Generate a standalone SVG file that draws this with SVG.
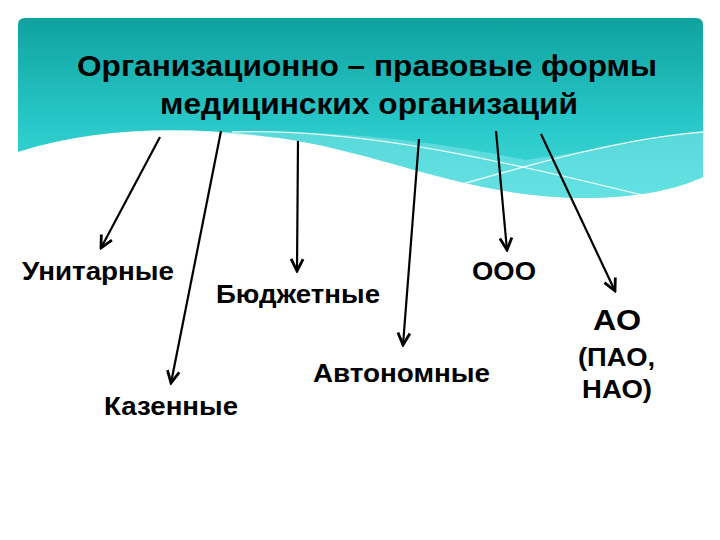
<svg xmlns="http://www.w3.org/2000/svg" width="720" height="540" viewBox="0 0 720 540">
  <defs>
    <linearGradient id="teal" x1="0" y1="18" x2="0" y2="200" gradientUnits="userSpaceOnUse">
      <stop offset="0" stop-color="#0fa29f"/>
      <stop offset="0.55" stop-color="#27c6c6"/>
      <stop offset="1" stop-color="#44dcdc"/>
    </linearGradient>
    <marker id="arr" viewBox="-14 -8 16 16" refX="0" refY="0" markerWidth="16" markerHeight="16" markerUnits="userSpaceOnUse" orient="auto">
      <path d="M-12,-6 L0,0 L-12,6" fill="none" stroke="#000" stroke-width="2.8" stroke-linejoin="miter"/>
    </marker>
    <style>
      .lbl { font-family: "Liberation Sans", Arial, sans-serif; font-weight: bold; fill: #000; }
      .title { font-size: 30px; }
      .node { font-size: 25px; }
      .conn line { stroke: #000; stroke-width: 2.2; marker-end: url(#arr); }
      .wl { fill: none; stroke: #ffffff; stroke-width: 1.3; opacity: 0.85; }
    </style>
  </defs>
  <rect width="720" height="540" fill="#ffffff"/>
  <g id="banner">
    <path d="M18,25 Q18,18 25,18 H696 Q703,18 703,25 V177 C 680,188 640,198 585,198 C 470,198 380,152 280,138 C 190,126 100,126 18,152 Z" fill="url(#teal)"/>
    <path d="M215,133 C 320,128 430,140 525,160 C 600,150 660,137 703,132 V177 C 680,188 640,198 585,198 C 470,198 380,152 280,138 C 255,135 235,134 215,133 Z" fill="#7fe6ea" opacity="0.55"/>
    <path class="wl" d="M232,132 C 360,128 500,160 650,197"/>
    <path class="wl" d="M420,196 C 520,168 610,140 703,132"/>
    <text class="lbl title" x="77" y="76" textLength="580" lengthAdjust="spacingAndGlyphs">Организационно – правовые формы</text>
    <text class="lbl title" x="160" y="114" textLength="418" lengthAdjust="spacingAndGlyphs">медицинских организаций</text>
  </g>
  <g id="connectors" class="conn">
    <line x1="160" y1="137" x2="101" y2="248"/>
    <line x1="221" y1="131" x2="171" y2="383"/>
    <line x1="298" y1="141" x2="297" y2="271"/>
    <line x1="419" y1="139" x2="403" y2="345"/>
    <line x1="496" y1="131" x2="507" y2="250"/>
    <line x1="541" y1="134" x2="615" y2="291"/>
  </g>
  <g id="unitarnye"><text class="lbl node" x="22" y="280" textLength="152" lengthAdjust="spacingAndGlyphs">Унитарные</text></g>
  <g id="kazennye"><text class="lbl node" x="104" y="415" textLength="134" lengthAdjust="spacingAndGlyphs">Казенные</text></g>
  <g id="byudzhetnye"><text class="lbl node" x="216" y="303" textLength="164" lengthAdjust="spacingAndGlyphs">Бюджетные</text></g>
  <g id="avtonomnye"><text class="lbl node" x="313" y="382" textLength="177" lengthAdjust="spacingAndGlyphs">Автономные</text></g>
  <g id="ooo"><text class="lbl node" x="472" y="280" textLength="64" lengthAdjust="spacingAndGlyphs">ООО</text></g>
  <g id="ao">
    <text class="lbl" x="593" y="330" font-size="29" textLength="48" lengthAdjust="spacingAndGlyphs">АО</text>
    <text class="lbl" x="578" y="366" font-size="26" textLength="77" lengthAdjust="spacingAndGlyphs">(ПАО,</text>
    <text class="lbl" x="582" y="398" font-size="26" textLength="70" lengthAdjust="spacingAndGlyphs">НАО)</text>
  </g>
</svg>
